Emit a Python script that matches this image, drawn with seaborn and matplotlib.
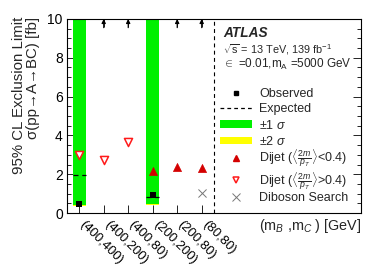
import numpy as np
import pandas as pd
import matplotlib
matplotlib.use('Agg')
import matplotlib.pyplot as plt
import matplotlib.transforms as mtransforms
import seaborn as sns
from matplotlib.lines import Line2D
from matplotlib.patches import Patch
from matplotlib.ticker import MultipleLocator

# chart data
categories = ['(400,400)', '(400,200)', '(400,80)', '(200,200)', '(200,80)', '(80,80)']
observed = [0.45, None, None, 0.95, None, None]          # None -> above the plot range
observed_offscale = [False, True, True, False, True, True]
expected = [1.95, None, None, 0.85, None, None]
band1_low = [0.41, None, None, 0.47, None, None]
band2_low = [0.34, None, None, 0.41, None, None]
dijet_low = [None, None, None, 2.18, 2.39, 2.34]
dijet_high = [2.99, 2.73, 3.68, None, None, None]
diboson = [None, None, None, None, None, 1.01]

sns.set_style('ticks')
plt.rcParams['font.family'] = ['Liberation Sans', 'DejaVu Sans']
plt.rcParams['mathtext.fontset'] = 'custom'
plt.rcParams['mathtext.rm'] = 'Liberation Sans'
plt.rcParams['mathtext.it'] = 'Liberation Sans:italic'
plt.rcParams['mathtext.bf'] = 'Liberation Sans:bold'

fig = plt.figure(figsize=(3.74, 2.67), dpi=100)
ax = fig.add_axes([0.179, 0.202, 0.786, 0.727])

xpos = np.arange(len(categories)) + 0.5
ymax = 10
top_clip = 10.5

# bands
for i, x in enumerate(xpos):
    if band2_low[i] is not None:
        ax.bar(x, top_clip - band2_low[i], bottom=band2_low[i], width=0.53, color='#ffff00', lw=0, zorder=1)
        ax.bar(x, top_clip - band1_low[i], bottom=band1_low[i], width=0.53, color='#00f000', lw=0, zorder=2)
    if expected[i] is not None:
        ax.hlines(expected[i], x - 0.27, x + 0.27, colors='black', linestyles=(0, (4, 3)), lw=0.9, zorder=3)

# points
df = pd.DataFrame({'x': xpos, 'observed': observed, 'dijet_low': dijet_low,
                   'dijet_high': dijet_high, 'diboson': diboson})
sns.scatterplot(data=df.dropna(subset=['observed']), x='x', y='observed', marker='s', s=16,
                color='black', edgecolor='black', linewidth=0, ax=ax, zorder=5)
sns.scatterplot(data=df.dropna(subset=['dijet_low']), x='x', y='dijet_low', marker='^', s=34,
                color='#d40000', edgecolor='#d40000', linewidth=0.5, ax=ax, zorder=5)
sns.scatterplot(data=df.dropna(subset=['dijet_high']), x='x', y='dijet_high', marker='v', s=34,
                facecolor='white', edgecolor='#ff1a1a', linewidth=1.1, ax=ax, zorder=5)
sns.scatterplot(data=df.dropna(subset=['diboson']), x='x', y='diboson', marker='x', s=34,
                color='#777777', linewidth=0.7, ax=ax, zorder=5)

# observed limits above the range
for i, x in enumerate(xpos):
    if observed_offscale[i]:
        ax.annotate('', xy=(x, ymax), xytext=(x, ymax - 0.45),
                    arrowprops=dict(arrowstyle='-|>', color='black', lw=0.8, mutation_scale=6,
                                    shrinkA=0, shrinkB=0), zorder=6)

ax.axvline(6, color='black', ls=(0, (3.5, 3)), lw=0.8, zorder=4)

ax.set_xlim(0, 12)
ax.set_ylim(0, ymax)
ax.set_xticks(xpos)
ax.yaxis.set_major_locator(MultipleLocator(2))
ax.yaxis.set_minor_locator(MultipleLocator(0.5))
ax.tick_params(axis='both', which='both', direction='in', top=True, right=True, width=0.6, colors='black')
ax.tick_params(axis='x', which='major', length=5.5, pad=4)
ax.tick_params(axis='y', which='major', length=6, labelsize=10, pad=3)
ax.tick_params(axis='y', which='minor', length=3)
ax.set_xticklabels(categories, rotation=-45, ha='left', va='top', rotation_mode='anchor', fontsize=9.4)
shift = mtransforms.ScaledTranslation(5 / 72, 0, fig.dpi_scale_trans)
for lab in ax.get_xticklabels():
    lab.set_transform(lab.get_transform() + shift)
for s in ax.spines.values():
    s.set_linewidth(0.8)
    s.set_color('black')

ax.set_xlabel('')
ax.set_ylabel('')
fig.text(26 / 374, 1 - 17 / 267, '95% CL Exclusion Limit\nσ(pp→A→BC) [fb]', rotation=90,
         ha='center', va='top', multialignment='right', linespacing=0.95, fontsize=10.8)
ax.text(1.0, -0.065, r'(m$_B$ ,m$_C$ ) [GeV]', transform=ax.transAxes, ha='right', va='center', fontsize=10.4)

# header texts
ax.text(0.531, 0.928, 'ATLAS', transform=ax.transAxes, fontsize=9.8, fontweight='bold', fontstyle='italic',
        ha='left', va='center')
ax.text(0.531, 0.843, r'$\sqrt{\rm s}$ = 13 TeV, 139 fb$^{-1}$', transform=ax.transAxes, fontsize=7.8,
        ha='left', va='center')
ax.text(0.531, 0.765, r'$\in$ =0.01,m$_{\rm A}$ =5000 GeV', transform=ax.transAxes, fontsize=8.5,
        ha='left', va='center')

leg_kw = dict(loc='upper left', frameon=False, fontsize=9, handlelength=2.6, handleheight=0.55,
              handletextpad=0.55, borderaxespad=0, borderpad=0)
handles1 = [
    Line2D([], [], marker='s', ls='', color='black', markersize=3.2),
    Line2D([], [], ls=(0, (3, 2.5)), color='black', lw=0.9),
    Patch(facecolor='#00f000', lw=0),
    Patch(facecolor='#ffff00', lw=0),
]
labels1 = ['Observed', 'Expected', r'$\pm$1 $\sigma$', r'$\pm$2 $\sigma$']
leg1 = ax.legend(handles1, labels1, bbox_to_anchor=(0.52, 0.645), labelspacing=0.27, **leg_kw)
ax.add_artist(leg1)

handles2 = [
    Line2D([], [], marker='^', ls='', color='#d40000', markersize=5),
    Line2D([], [], marker='v', ls='', markerfacecolor='white', markeredgecolor='#ff1a1a', markeredgewidth=1.1, markersize=5),
    Line2D([], [], marker='x', ls='', color='#777777', markersize=6, markeredgewidth=0.7),
]
labels2 = [r'Dijet ($\langle\frac{2m}{p_T}\rangle$<0.4)',
           r'Dijet ($\langle\frac{2m}{p_T}\rangle$>0.4)', 'Diboson Search']
leg2 = ax.legend(handles2, labels2, bbox_to_anchor=(0.52, 0.338), labelspacing=0.05, **leg_kw)

fig.savefig('out.png', dpi=100)
